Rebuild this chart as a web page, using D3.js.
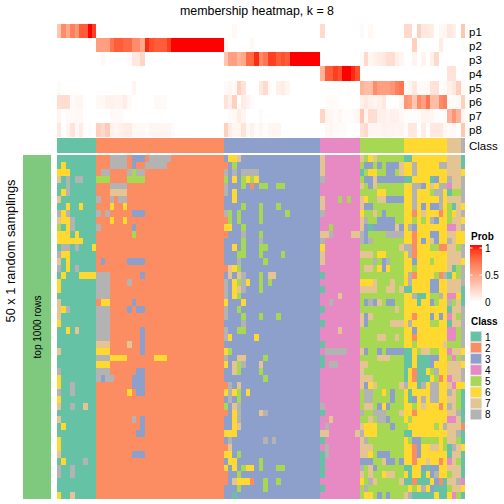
<!DOCTYPE html>
<html><head><meta charset="utf-8">
<script src="https://cdnjs.cloudflare.com/ajax/libs/d3/7.8.5/d3.min.js"></script>
<style>html,body{margin:0;padding:0;background:#fff}svg{display:block}text{font-family:"Liberation Sans",Arial,sans-serif;fill:#000}</style>
</head><body><div id="chart"></div>
<script>
const title = "membership heatmap, k = 8";
const leftTitle = "50 x 1 random samplings";
const rowGroup = "top 1000 rows";
const classIds = [1,2,3,4,5,6,7,8];
const classColors = ["#66C2A5","#FC8D62","#8DA0CB","#E78AC3","#A6D854","#FFD92F","#E5C494","#B3B3B3"];
const classSizes = [9,29,22,9,10,10,3,1];
const probTicks = [1,0.5,0];
// membership probability by column; columns not listed are 0
const p1 = {0:.3,1:.6,2:.45,3:.65,4:.55,5:.8,6:.8,7:1,8:.9,40:.04,60:.2,69:.03,71:.04,79:.2,80:.2,82:.25,83:.12,84:.12,85:.1,87:.04,88:.05,89:.12,90:.08,92:.3};
const p2 = {9:.5,10:.5,11:.5,12:.7,13:.8,14:.8,15:.75,16:.75,17:.6,18:.6,19:.45,20:.95,21:.85,22:.8,23:.8,24:.8,25:.9,26:1,27:1,28:1,29:1,30:1,31:1,32:1,33:1,34:1,35:1,36:1,37:1,38:.05,44:.04,81:.25,87:.1,92:.01};
const p3 = {10:.04,16:.03,17:.12,18:.12,19:.22,38:.3,39:.5,40:.5,41:.4,42:.45,43:.75,44:.75,45:.95,46:.6,47:.7,48:.9,49:.9,50:.8,51:.85,52:.8,53:1,54:1,55:1,56:1,57:1,58:1,59:1,69:.03,70:.2,71:.05,72:.08,73:.1,74:.12,75:.18,76:.18,77:.08,78:.05,81:.06,83:.06,85:.08,86:.2};
const p4 = {60:.4,61:.8,62:.8,63:.9,64:.85,65:1,66:1,67:.95,68:.85,89:.15,90:.15,92:.02};
const p5 = {0:.03,17:.05,38:.03,39:.05,40:.03,41:.25,42:.15,46:.12,47:.2,48:.03,50:.08,51:.1,52:.05,64:.01,66:.01,69:.4,70:.35,71:.35,72:.6,73:.5,74:.5,75:.5,76:.55,77:.65,78:.7,79:.03,80:.05,81:.12,82:.03,83:.03,84:.03,85:.15,86:.15,88:.03,89:.08,90:.12,91:.25,92:.03};
const p6 = {0:.18,1:.18,2:.18,3:.02,4:.05,5:.05,9:.04,10:.04,11:.07,12:.07,13:.06,14:.06,15:.1,16:.03,22:.03,23:.03,24:.03,38:.15,39:.08,40:.25,42:.1,43:.06,44:.02,61:.02,62:.02,63:.02,69:.08,70:.12,71:.08,72:.06,73:.08,74:.12,78:.05,79:.55,80:.5,81:.3,82:.6,83:.5,84:.7,85:.35,86:.35,87:.6,88:.65,89:.02,90:.02,91:.04,92:.25};
const p7 = {0:.06,2:.03,3:.03,4:.04,5:.04,12:.03,13:.03,14:.03,39:.03,40:.03,41:.1,42:.05,46:.03,60:.22,61:.05,62:.05,63:.02,64:.05,65:.01,66:.02,67:.02,68:.05,69:.3,70:.05,71:.18,72:.18,73:.08,74:.08,75:.05,76:.08,77:.07,78:.04,79:.01,80:.01,81:.01,82:.02,83:.06,84:.06,85:.05,86:.01,87:.01,88:.01,89:.4,90:.55,91:.4,92:.05};
const p8 = {0:.12,2:.05,3:.15,4:.03,5:.1,7:.02,9:.25,10:.2,11:.28,12:.08,13:.05,14:.07,15:.1,16:.1,17:.04,18:.04,19:.04,20:.02,21:.05,22:.05,23:.05,24:.05,25:.05,26:.02,38:.25,39:.1,40:.05,41:.05,42:.15,43:.03,44:.08,45:.02,46:.05,47:.02,48:.05,49:.05,50:.05,61:.04,62:.05,63:.03,64:.02,65:.02,69:.15,70:.2,71:.05,72:.05,73:.05,74:.07,75:.06,76:.06,77:.05,78:.06,79:.02,80:.12,81:.12,83:.1,85:.12,86:.12,87:.12,88:.05,89:.03,90:.04,92:.3};
const probRows = [["p1",p1],["p2",p2],["p3",p3],["p4",p4],["p5",p5],["p6",p6],["p7",p7],["p8",p8]];
// per sampling: cells that differ from the column's class, as "columns:class"
const samplings = [
"12-15:8 17-19:3 21-25:8 39-40:6 41:7 60:7 69:7 71:6 72:7 79-80:1 92:1",
"1:6 12-15:8 17:3 20-24:8 38:2 40:5 60:7 70-71:3 73:3 75-77:3 78:7 81:8 87-88:8 92:1",
"0-2:6 10-11:8 16:8 17:5 18-19:8 38:8 40:8 42-45:8 60:7 69:1 71-72:6 75-76:3 78:7 81:8 92:6",
"0:7 2:8 4-5:8 9-11:5 16-19:5 38:5 40:6 42:5 43:6 44:5 45:6 60:8 70-71:3 72:7 73-78:3 79-80:1 85:1 86:3 89:8 92:8",
"2:8 12-15:8 38:8 42:5 44:2 46-47:5 50-51:5 69:7 71:3 72:7 81-82:8 83:3 85:7 87-88:8 89:4 92:8",
"1:6 2:8 12-15:7 38:8 40:6 73-74:6 81:8 85:5 86-87:8 89:1 90-91:5 92:8",
"0:7 9:8 12:8 14-15:8 40:6 60:7 64:5 66:5 69:7 70:6 73-74:7 75-78:3 81:8 87:8 92:8",
"2:6 5:6 12:6 15:6 42:5 46:5 50:5 60:7 69:7 70-71:3 81:8 83:3 85-86:3 87:8 89:5 90:1 92:6",
"0:8 1:6 2:8 9:8 11:8 17-19:3 38:8 39:5 41:5 46:5 52:5 60:8 69:6 72:7 74:3 81:2 83:7 87:2 89:5 90:6 92:8",
"0:7 1-2:6 3:8 12:6 15:6 38:2 39:5 41:5 46:5 69:7 70:8 73-76:3 81:5 83:5 85:8 86:3 89:5 92:6",
"0:5 2:6 3:8 9:8 17:3 38-39:6 42:5 62:5 69:7 70:3 71:1 72-76:3 77:7 78:3 80:8 81:3 89-90:4 92:8",
"0-2:6 4:6 17:5 38:2 42:8 46:5 60-61:7 62:8 67-68:7 69:8 70:3 75-78:8 81:2 85-86:3 91-92:6",
"0-5:6 42:5 46:8 60:8 69:8 70:3 71:8 81:2 83:3 85:7 86:3 89:8 91-92:6",
"1-2:8 4:8 8:6 40:6 42:5 46-47:5 60:6 78:7 79-80:8 81:2 85-86:5 87-88:2 91:5 92:8",
"0:8 1-2:6 41-42:5 46:5 51:5 60:7 69-71:7 73-74:6 80:8 81:2 92:8",
"0:7 2:6 10:3 16-19:3 41:8 47:5 60:7 72:8 74:3 75:8 81:3 85:5 92:6",
"0:8 2:6 4:8 38:2 39:7 40:6 41:5 70-71:7 73:6 74:3 75:6 81:5 90:1 91:5 92:8",
"1:6 5-8:6 9-11:8 19:3 39:7 41:7 42:8 46:5 48-49:7 60:1 80:8 81:2 86:5 87:2 88:8 89:1 90:6 91:5 92:8",
"0:6 9-11:8 16:8 38:8 40:6 41:5 42:8 43:6 46:5 48:5 69-71:6 72:7 76:7 80:8 85-86:3 92:8",
"0:6 9-11:8 38:8 40:6 41:7 42:8 46:5 60:1 69-72:7 75-76:7 78:7 79-80:1 85-86:3 92:1",
"9-11:8 38:8 40:6 41:5 64:7 81:8 82-83:1 85-86:5 87:8 89-90:4 91:6 92:1",
"0:7 9:2 10-11:6 17:3 38:6 42:6 62:8 70:3 71:8 72:3 73:7 75-76:3 82:1 85:3 86:5 89:8 90:5 92:1",
"0:7 1:6 2:8 9-11:8 16:3 18-19:3 38:8 41:5 60:1 77:7 89:1 92:8",
"0:7 9-11:8 38:8 42:5 46:5 50:5 69:7 70:3 71:7 81:2 85:3 87:3 89:4 91:5 92:8",
"0:6 9-11:8 42:8 60:1 69:7 70:3 76-78:7 80:8 85-86:5 89:1 92:8",
"2:6 4:7 9-11:8 19:3 38:8 41-42:5 64:7 81:3 89-90:4 91:5 92:8",
"9-11:8 19:3 38:8 39:6 45:6 73-74:7 77:7 81:2 89-90:4 91:5 92:8",
"9-11:7 16:7 19:3 60:1 81:5 88:7 89-91:5 92:8",
"0:7 9-11:6 19:3 38:6 39:5 61-65:8 69:7 70:3 73:3 75-78:3 79-80:1 82:5 83-84:7 85-86:5 89:4 92:6",
"9-11:8 12-15:6 22-24:6 38:8 41-42:7 47:5 60:1 73-75:7 79-80:1 82-84:1 85-86:3 89:5 90:4 91:5 92:8",
"9-11:6 38:6 40:7 41:5 42:8 46:7 60:1 62-63:8 69-70:7 79-80:1 82-84:1 85:3 92:6",
"0:8 9-11:8 18-19:3 40:7 41:5 46:5 69:7 79:1 81:2 82-83:1 85:5 86:8 92:8",
"0:6 9:8 10:3 11-12:8 17-19:3 47:5 69-71:7 79:1 81:2 82-84:1 86:5 87:2 89:4 92:8",
"0:6 3:8 17-19:3 38:2 39:8 41:7 69:7 70:3 71:6 72:7 78:7 79:8 82:1 83:8 85-86:8 90:4 91-92:6",
"0:8 3:8 16:6 18-19:3 38:6 39:8 40:6 41:5 43:6 70-71:8 74:6 76:3 80:1 85-86:8 89:8 91:5 92:1",
"0:6 39:8 41:5 70-71:8 76:3 80:1 81:3 83:8 85-86:8 91:5 92:1",
"0:7 3:8 6:7 38:5 40:7 41:8 60:8 70-71:7 73:3 74:6 75:3 81:5 83:7 87:2 89:8 91:5 92:1",
"38:2 40:6 41:8 46:7 47:8 60:1 69:8 72-74:8 78:7 81:2 91:8 92:1",
"0:7 17:8 19:3 40:6 41:8 62:7 71:7 73-74:8 75:3 80:5 89-90:4 92:1",
"1:6 19:3 40:6 41:7 61:8 69:7 70-72:6 76:3 79:5 86:5 88:8 92:2",
"18-19:3 38-40:6 60-61:7 68:7 69:8 70-72:6 79-80:1 91:8 92:1",
"0:6 39:8 47:8 49:8 60:1 69:7 70:8 80:5 81-82:3 83-86:5 88:5 91:5 92:1",
"0:6 38:2 39:7 61:8 69-71:7 81:2 82:3 85-86:7 88:5 89:1 90:8 92:6",
"0:7 17-19:3 38-39:6 41:5 60:1 61:8 69-70:7 71:6 73-75:3 81:2 82:3 89:1 92:1",
"1:6 6:8 39-40:6 46:5 60:1 69-71:3 74:7 75-76:3 78:3 81:2 84:7 87:2 89:4 91:5 92:1",
"0:8 3:8 38:6 40:6 42:5 43-44:6 46:5 50-51:5 60:1 69:8 71:7 72:3 79-80:1 83:3 84:1 85-86:3 92:1",
"0:8 3:8 38:2 41:5 60:1 69:7 71:7 74:6 75-76:7 80:1 83:1 85:3 86:8 89:5 92:1",
"38:2 40:7 41-43:6 44:2 47:5 50:5 69:6 71:8 72:7 78:7 79-80:1 81:2 82-84:1 86:3 87:2 88:1 91:8 92:4",
"41:5 47:5 60:1 70:8 79:5 81:5 83:8 85:3 86-88:1 89:5 92:6",
"0:6 3:7 40:1 70-71:6 73:3 75:3 79:7 80:8 81-85:1 86:6 87-88:1 89:6 90:4 91:5 92:1"
];

const columnClass = classSizes.flatMap((n,i)=>d3.range(n).map(()=>classIds[i]));
const grid = samplings.map(s=>{
  const row = columnClass.slice();
  s.split(" ").forEach(tok=>{
    const [cols,c] = tok.split(":");
    const [a,b] = cols.split("-").map(Number);
    for(let i=a;i<=(b===undefined?a:b);i++) row[i]=+c;
  });
  return row;
});

const svg = d3.select("#chart").append("svg").attr("width",504).attr("height",504);
const x = d3.scaleBand().domain(d3.range(columnClass.length)).range([57,465]);
const yProb = d3.scaleBand().domain(probRows.map(d=>d[0])).range([24,137]);
const yMain = d3.scaleBand().domain(d3.range(samplings.length)).range([155,499]);
const classColor = d3.scaleOrdinal().domain(classIds).range(classColors);
const probColor = d3.scaleLinear().domain([0,1]).range(["#ffffff","#ff0000"]).interpolate(d3.interpolateLab);

const crisp = svg.append("g").attr("shape-rendering","crispEdges");
probRows.forEach(([name,vals])=>{
  crisp.append("g").selectAll("rect").data(columnClass.map((_,i)=>i)).join("rect")
    .attr("x",i=>x(i)).attr("y",yProb(name)).attr("width",x.bandwidth()).attr("height",yProb.bandwidth())
    .attr("fill",i=>probColor(vals[i]||0));
});
crisp.append("g").selectAll("rect").data(columnClass).join("rect")
  .attr("x",(d,i)=>x(i)).attr("y",138).attr("width",x.bandwidth()).attr("height",15)
  .attr("fill",d=>classColor(d));
grid.forEach((row,j)=>{
  crisp.append("g").selectAll("rect").data(row).join("rect")
    .attr("x",(d,i)=>x(i)).attr("y",yMain(j)).attr("width",x.bandwidth()).attr("height",yMain.bandwidth())
    .attr("fill",d=>classColor(d));
});
crisp.append("rect").attr("x",23).attr("y",155).attr("width",28).attr("height",344).attr("fill","#7FC97F");

svg.append("text").attr("x",257).attr("y",14.7).attr("text-anchor","middle").attr("font-size",12.4).text(title);
svg.selectAll(".plabel").data(probRows).join("text").attr("class","plabel")
  .attr("x",469).attr("y",d=>yProb(d[0])+yProb.bandwidth()/2+4.5).attr("font-size",11.5).text(d=>d[0]);
svg.append("text").attr("x",469).attr("y",149.5).attr("font-size",11.5).text("Class");
svg.append("text").attr("transform","translate(14.5,251) rotate(-90)").attr("text-anchor","middle").attr("font-size",12.8).text(leftTitle);
svg.append("text").attr("transform","translate(40.5,327) rotate(-90)").attr("text-anchor","middle").attr("font-size",10).text(rowGroup);

// Prob legend
const defs = svg.append("defs");
const grad = defs.append("linearGradient").attr("id","prob").attr("x1",0).attr("x2",0).attr("y1",1).attr("y2",0);
d3.range(0,1.01,0.1).forEach(t=>grad.append("stop").attr("offset",t).attr("stop-color",probColor(t)));
svg.append("text").attr("x",471).attr("y",240).attr("font-size",10).attr("font-weight","bold").text("Prob");
const yLeg = d3.scaleLinear().domain([0,1]).range([302,248]);
svg.append("rect").attr("x",470).attr("y",245).attr("width",12).attr("height",57).attr("fill","url(#prob)");
svg.selectAll(".lt").data(probTicks).join("line").attr("class","lt")
  .attr("x1",470).attr("x2",482).attr("y1",d=>yLeg(d)).attr("y2",d=>yLeg(d))
  .attr("stroke","#fff").attr("stroke-width",1).attr("stroke-dasharray","2.5 7");
svg.selectAll(".ll").data(probTicks).join("text").attr("class","ll")
  .attr("x",485).attr("y",d=>yLeg(d)+4).attr("font-size",10).text(d=>d);

// Class legend
svg.append("text").attr("x",471).attr("y",325).attr("font-size",10).attr("font-weight","bold").text("Class");
const yC = d3.scaleBand().domain(classIds).range([331,420]);
svg.selectAll(".cs").data(classIds).join("rect").attr("class","cs")
  .attr("x",470.5).attr("y",d=>yC(d)+.5).attr("width",11).attr("height",yC.bandwidth()-1)
  .attr("fill",d=>classColor(d)).attr("stroke","#ddd").attr("stroke-width",.6);
svg.selectAll(".cl").data(classIds).join("text").attr("class","cl")
  .attr("x",485).attr("y",d=>yC(d)+yC.bandwidth()/2+4).attr("font-size",10).text(d=>d);
</script></body></html>
